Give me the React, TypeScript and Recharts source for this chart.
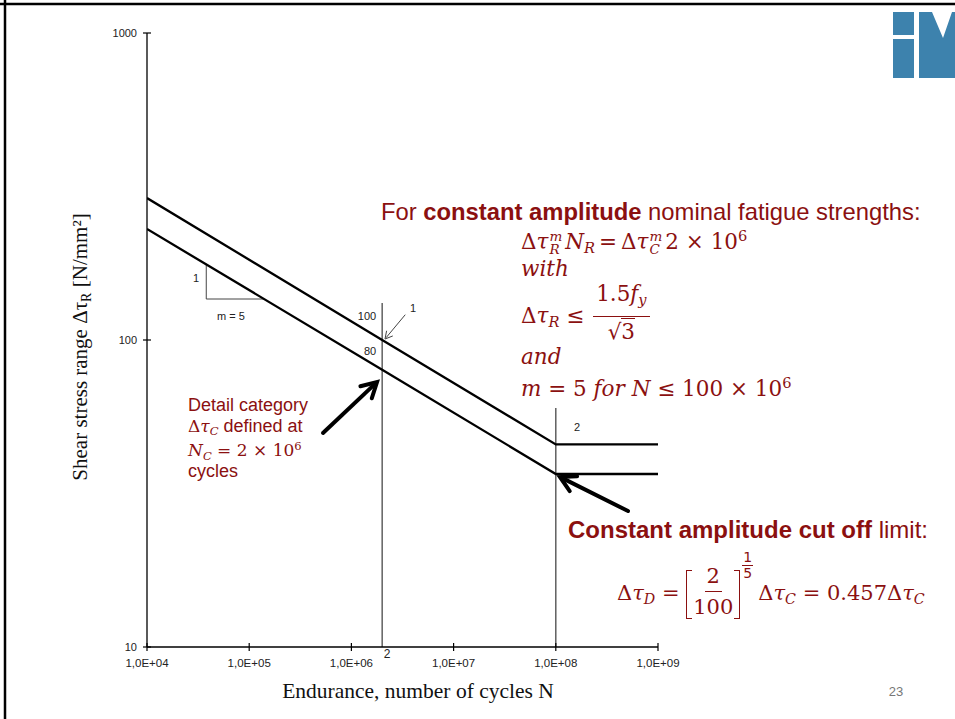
import React from 'react'
import { LineChart, Line, XAxis, YAxis } from 'recharts'

// axis ticks
const xTicks = [1e4, 1e5, 1e6, 1e7, 1e8, 1e9]
const xTickLabels = ['1,0E+04', '1,0E+05', '1,0E+06', '1,0E+07', '1,0E+08', '1,0E+09']
const yTicks = [10, 100, 1000]
const yTickLabels = ['10', '100', '1000']

// S-N curves: knee points (cycles) and stress ranges
const cycles = [1e4, 2e6, 1e8, 1e9]
const cat100 = [290, 100, 45.7, 45.7]
const cat80 = [230, 80, 36.6, 36.6]

// helper lines
const ncCycles = [2e6, 2e6]
const ncStress = [10, 132]
const ndCycles = [1e8, 1e8]
const ndStress = [10, 60]
const slopeCycles = [3.8e4, 3.8e4, 1.4e5]
const slopeStress = [177, 136, 136]

const rows = (ns: number[], vs: number[]) => ns.map((n, i) => ({ n, v: vs[i] }))

const red = '#8b1010'
const sans = "'Liberation Sans', Arial, sans-serif"
const serif = "'Liberation Serif', 'Times New Roman', serif"
const math = "'DejaVu Serif', serif"

function XTick({ x, y, payload }: any) {
  const i = xTicks.indexOf(payload.value)
  return (
    <g>
      <line x1={x} x2={x} y1={y - 4} y2={y + 4} stroke="#000" strokeWidth={1.2} />
      <text x={x} y={y + 20} textAnchor="middle" fontSize={11.5} fontFamily={sans} fill="#222">
        {xTickLabels[i]}
      </text>
    </g>
  )
}

function YTick({ x, y, payload }: any) {
  const i = yTicks.indexOf(payload.value)
  return (
    <g>
      <line x1={x - 4} x2={x + 4} y1={y} y2={y} stroke="#000" strokeWidth={1.2} />
      <text x={x - 10} y={y + 4} textAnchor="end" fontSize={11} fontFamily={sans} fill="#222">
        {yTickLabels[i]}
      </text>
    </g>
  )
}

const It = ({ children }: any) => <span style={{ fontStyle: 'italic' }}>{children}</span>
const Sub = ({ children }: any) => (
  <span style={{ fontSize: '0.68em', verticalAlign: '-0.3em', fontStyle: 'italic' }}>{children}</span>
)
const Sup = ({ children }: any) => (
  <span style={{ fontSize: '0.68em', verticalAlign: '0.55em' }}>{children}</span>
)
const Rel = ({ children }: any) => <span style={{ margin: '0 4px' }}>{children}</span>
const Scr = ({ sup, sub }: any) => (
  <span
    style={{
      display: 'inline-flex',
      flexDirection: 'column',
      fontSize: 13.5,
      lineHeight: '13px',
      verticalAlign: '8px',
      fontStyle: 'italic',
      margin: '0 3px 0 1px',
    }}
  >
    <span>{sup}</span>
    <span>{sub}</span>
  </span>
)

function Arrow({ x1, y1, x2, y2, w, len, color }: any) {
  const dx = x2 - x1
  const dy = y2 - y1
  const d = Math.hypot(dx, dy)
  const ux = dx / d
  const uy = dy / d
  const bx = x2 - ux * len
  const by = y2 - uy * len
  const px = -uy * len * 0.55
  const py = ux * len * 0.55
  return (
    <g stroke={color} strokeWidth={w} fill="none" strokeLinecap="round" strokeLinejoin="miter">
      <line x1={x1} y1={y1} x2={x2 - ux * 2} y2={y2 - uy * 2} />
      <polyline points={`${bx + px},${by + py} ${x2},${y2} ${bx - px},${by - py}`} />
    </g>
  )
}

const lineStyle = (top: number, left: number, size: number, h: number): React.CSSProperties => ({
  position: 'absolute',
  left,
  top,
  height: h,
  lineHeight: `${h}px`,
  fontSize: size,
  whiteSpace: 'nowrap',
  color: red,
})

export default function App() {
  return (
    <div style={{ position: 'relative', width: 955, height: 719, background: '#fff', overflow: 'hidden' }}>
      <style>{'body{margin:0}'}</style>
      <LineChart width={955} height={719} margin={{ top: 33, right: 297, bottom: 42, left: 0 }}>
        <XAxis
          dataKey="n"
          type="number"
          scale="log"
          domain={[1e4, 1e9]}
          allowDataOverflow
          ticks={xTicks}
          interval={0}
          height={30}
          tickSize={0}
          tickMargin={0}
          tickLine={false}
          tick={<XTick />}
          axisLine={{ stroke: '#000', strokeWidth: 1.3 }}
        />
        <YAxis
          type="number"
          scale="log"
          domain={[10, 1000]}
          allowDataOverflow
          ticks={yTicks}
          interval={0}
          width={147}
          tickSize={0}
          tickMargin={0}
          tickLine={false}
          tick={<YTick />}
          axisLine={{ stroke: '#000', strokeWidth: 1.3 }}
        />
        <Line data={rows(ncCycles, ncStress)} dataKey="v" stroke="#555" strokeWidth={1.4} dot={false} isAnimationActive={false} />
        <Line data={rows(ndCycles, ndStress)} dataKey="v" stroke="#555" strokeWidth={1.4} dot={false} isAnimationActive={false} />
        <Line data={rows(slopeCycles, slopeStress)} dataKey="v" stroke="#444" strokeWidth={1} dot={false} isAnimationActive={false} />
        <Line data={rows(cycles, cat100)} dataKey="v" stroke="#000" strokeWidth={2.3} dot={false} isAnimationActive={false} />
        <Line data={rows(cycles, cat80)} dataKey="v" stroke="#000" strokeWidth={2.3} dot={false} isAnimationActive={false} />
      </LineChart>

      <svg width={955} height={719} style={{ position: 'absolute', left: 0, top: 0, pointerEvents: 'none' }}>
        {/* slide frame */}
        <line x1={0} y1={4} x2={955} y2={4} stroke="#000" strokeWidth={2.5} />
        <line x1={5} y1={0} x2={5} y2={719} stroke="#000" strokeWidth={2.5} />
        {/* logo */}
        <rect x={893} y={12} width={21} height={23} fill="#3d82ad" />
        <rect x={893} y={39} width={21} height={39} fill="#3d82ad" />
        <polygon points="919,12 932,12 943,38 952,12 955,12 955,78 919,78" fill="#3d82ad" />

        {/* axis titles */}
        <text x={418} y={698} textAnchor="middle" fontFamily={serif} fontSize={21.5} fill="#111">
          Endurance, number of cycles N
        </text>
        <text transform="rotate(-90 87 347)" x={87} y={347} textAnchor="middle" fontFamily={serif} fontSize={21} fill="#111">
          Shear stress range Δτ<tspan fontSize={14} dy={4}>R</tspan>
          <tspan dy={-4}> [N/mm²]</tspan>
        </text>
        <text x={896} y={696} textAnchor="middle" fontFamily={sans} fontSize={13} fill="#777">23</text>

        {/* small chart labels */}
        <g fontFamily={sans} fontSize={11} fill="#222">
          <text x={196} y={282} textAnchor="middle">1</text>
          <text x={231} y={320} textAnchor="middle">m = 5</text>
          <text x={367} y={320} textAnchor="middle">100</text>
          <text x={370} y={355} textAnchor="middle">80</text>
          <text x={413} y={312} textAnchor="middle">1</text>
          <text x={577} y={431} textAnchor="middle">2</text>
          <text x={387} y={658} textAnchor="middle" fontSize={12}>2</text>
        </g>
        <Arrow x1={405} y1={315} x2={385} y2={339} w={1} len={7} color="#444" />
        <Arrow x1={323} y1={433} x2={377} y2={382} w={4} len={15} color="#000" />
        <Arrow x1={628} y1={511} x2={560} y2={477} w={4} len={15} color="#000" />
      </svg>

      {/* constant amplitude strengths */}
      <div style={{ ...lineStyle(198, 381, 23.8, 28), fontFamily: sans }}>
        For <b>constant amplitude</b> nominal fatigue strengths:
      </div>
      <div style={{ ...lineStyle(220, 521, 21.5, 32), fontFamily: math }}>
        Δ<It>τ</It>
        <Scr sup="m" sub="R" />
        <It>N</It>
        <Sub>R</Sub>
        <Rel>=</Rel>Δ<It>τ</It>
        <Scr sup="m" sub="C" />2 × 10<Sup>6</Sup>
      </div>
      <div style={{ ...lineStyle(255, 521, 21.5, 28), fontFamily: math }}>
        <It>with</It>
      </div>
      <div style={{ ...lineStyle(281, 521, 21.5, 70), fontFamily: math }}>
        Δ<It>τ</It>
        <Sub>R</Sub> ≤{' '}
        <span
          style={{
            display: 'inline-flex',
            flexDirection: 'column',
            alignItems: 'center',
            verticalAlign: 'middle',
            lineHeight: '30px',
            margin: '0 2px',
            position: 'relative',
            top: -4,
          }}
        >
          <span style={{ borderBottom: '1.6px solid', padding: '0 3px' }}>
            1.5<It>f</It>
            <Sub>y</Sub>
          </span>
          <span>
            √<span style={{ borderTop: '1.6px solid' }}>3</span>
          </span>
        </span>
      </div>
      <div style={{ ...lineStyle(343, 521, 21.5, 28), fontFamily: math }}>
        <It>and</It>
      </div>
      <div style={{ ...lineStyle(368, 521, 21.5, 30), fontFamily: math }}>
        <It>m</It> = 5 <It>for</It> <It>N</It> ≤ 100 × 10<Sup>6</Sup>
      </div>

      {/* detail category note */}
      <div style={{ ...lineStyle(393, 188, 18, 24), fontFamily: sans }}>Detail category</div>
      <div style={{ ...lineStyle(414, 188, 18, 24), fontFamily: sans }}>
        <span style={{ fontFamily: math, fontSize: 17 }}>
          Δ<It>τ</It>
          <Sub>C</Sub>
        </span>{' '}
        defined at
      </div>
      <div style={{ ...lineStyle(434, 188, 17, 24), fontFamily: math }}>
        <It>N</It>
        <Sub>C</Sub> = 2 × 10<Sup>6</Sup>
      </div>
      <div style={{ ...lineStyle(459, 188, 18, 24), fontFamily: sans }}>cycles</div>

      {/* cut off limit */}
      <div style={{ ...lineStyle(516, 568, 24, 28), fontFamily: sans }}>
        <b>Constant amplitude cut off</b> limit:
      </div>
      <div style={{ ...lineStyle(548, 617, 21, 90), fontFamily: math }}>
        Δ<It>τ</It>
        <Sub>D</Sub> ={' '}
        <span
          style={{
            display: 'inline-block',
            width: 5,
            height: 47,
            borderLeft: '1.8px solid',
            borderTop: '1.8px solid',
            borderBottom: '1.8px solid',
            verticalAlign: 'middle',
          }}
        />
        <span
          style={{
            display: 'inline-flex',
            flexDirection: 'column',
            alignItems: 'center',
            verticalAlign: 'middle',
            lineHeight: '30px',
            margin: '0 1px',
            position: 'relative',
            top: -3,
          }}
        >
          <span style={{ borderBottom: '1.6px solid', padding: '0 2px' }}>2</span>
          <span>100</span>
        </span>
        <span
          style={{
            display: 'inline-block',
            width: 5,
            height: 47,
            borderRight: '1.8px solid',
            borderTop: '1.8px solid',
            borderBottom: '1.8px solid',
            verticalAlign: 'middle',
          }}
        />
        <span
          style={{
            display: 'inline-flex',
            flexDirection: 'column',
            alignItems: 'center',
            verticalAlign: '38px',
            fontSize: 14,
            lineHeight: '15px',
            margin: '0 5px 0 2px',
            fontFamily: "'DejaVu Sans', sans-serif",
          }}
        >
          <span style={{ borderBottom: '1.4px solid', padding: '0 1px' }}>1</span>
          <span>5</span>
        </span>
        Δ<It>τ</It>
        <Sub>C</Sub> = 0.457Δ<It>τ</It>
        <Sub>C</Sub>
      </div>
    </div>
  )
}
